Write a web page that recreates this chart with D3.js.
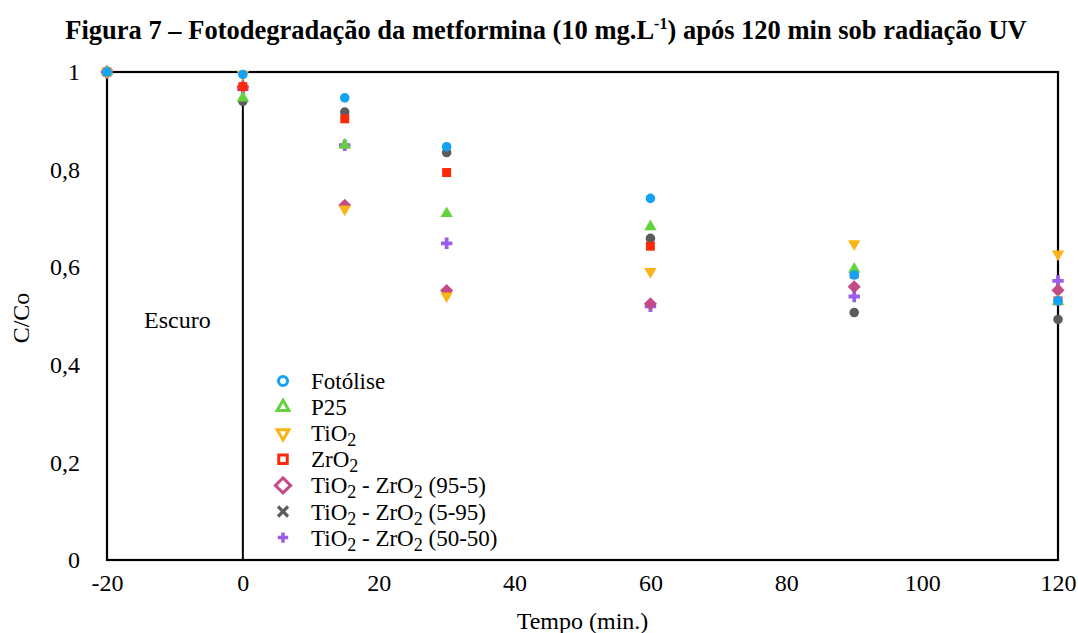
<!DOCTYPE html>
<html>
<head>
<meta charset="utf-8">
<script src="https://cdn.jsdelivr.net/npm/d3@7"></script>
<style>
  body { margin: 0; background: #fff; }
  svg text { font-family: "Liberation Serif", "Times New Roman", serif; fill: #000; }
</style>
</head>
<body>
<svg id="graphique" width="1078" height="633"></svg>
<script>
// tempo em minutos
const tempo = [-20, 0, 15, 30, 60, 90, 120];
// valores C/Co
const fotolise = [1, 0.995, 0.947, 0.847, 0.741, 0.584, 0.531];
const p25      = [1, 0.947, 0.850, 0.710, 0.683, 0.596, 0.530];
const tio2     = [1, 0.995, 0.719, 0.541, 0.591, 0.648, 0.627];
const zro2     = [1, 0.970, 0.904, 0.794, 0.643, 0.586, 0.531];
const tz95_5   = [1, 0.970, 0.727, 0.552, 0.525, 0.560, 0.553];
const tz5_95   = [1, 0.940, 0.918, 0.835, 0.659, 0.507, 0.493];
const tz50_50  = [1, 0.965, 0.850, 0.649, 0.520, 0.540, 0.572];

const xTicks = [-20, 0, 20, 40, 60, 80, 100, 120];
const yTicks = [0, 0.2, 0.4, 0.6, 0.8, 1];

const series = [
  { nome: 'Fotólise', valores: fotolise, cor: '#14a2f4', forma: 'circle' },
  { nome: 'P25', valores: p25, cor: '#62d33c', forma: 'up' },
  { nome: ['TiO', '2', ''], valores: tio2, cor: '#fbb416', forma: 'down' },
  { nome: ['ZrO', '2', ''], valores: zro2, cor: '#fd2a0a', forma: 'square' },
  { nome: ['TiO', '2', ' - ZrO', '2', ' (95-5)'], valores: tz95_5, cor: '#c24a86', forma: 'diamond' },
  { nome: ['TiO', '2', ' - ZrO', '2', ' (5-95)'], valores: tz5_95, cor: '#5c5c5c', forma: 'dot' },
  { nome: ['TiO', '2', ' - ZrO', '2', ' (50-50)'], valores: tz50_50, cor: '#9c5ce8', forma: 'plus' }
];

const svg = d3.select('#graphique');
const margin = { top: 72, right: 20, bottom: 73, left: 107 };
const width = +svg.attr('width') - margin.left - margin.right;
const height = +svg.attr('height') - margin.top - margin.bottom;

const x = d3.scaleLinear().domain([-20, 120]).range([0, width]);
const y = d3.scaleLinear().domain([0, 1]).range([height, 0]);

// titulo
const titulo = svg.append('text')
  .attr('x', 546).attr('y', 39)
  .attr('text-anchor', 'middle')
  .style('font-size', '26.5px').style('font-weight', 'bold');
titulo.append('tspan').text('Figura 7 – Fotodegradação da metformina (10 mg.L');
titulo.append('tspan').attr('dy', -10).style('font-size', '16px').text('-1');
titulo.append('tspan').attr('dy', 10).text(') após 120 min sob radiação UV');

const g = svg.append('g').attr('transform', `translate(${margin.left},${margin.top})`);

// moldura
g.append('rect')
  .attr('x', 0).attr('y', 0).attr('width', width).attr('height', height)
  .attr('fill', 'none').attr('stroke', '#000').attr('stroke-width', 2.2);

// linha do escuro em t = 0
g.append('line')
  .attr('x1', x(0)).attr('x2', x(0)).attr('y1', 0).attr('y2', height)
  .attr('stroke', '#000').attr('stroke-width', 2);

// eixos sem marcas
const fmtY = d => d3.format('.1f')(d).replace('.', ',').replace(/^1,0$/, '1').replace(/^0,0$/, '0');
const fmtX = d => String(d);
const ax = g.append('g')
  .attr('transform', `translate(0,${height})`)
  .call(d3.axisBottom(x).tickValues(xTicks).tickSize(0).tickPadding(14).tickFormat(fmtX));
const ay = g.append('g')
  .call(d3.axisLeft(y).tickValues(yTicks).tickSize(0).tickPadding(27).tickFormat(fmtY));
[ax, ay].forEach(a => {
  a.select('.domain').remove();
  a.selectAll('text')
    .style('font-family', '"Liberation Serif", serif')
    .style('font-size', '24px').attr('fill', '#000');
});

// rotulos dos eixos
svg.append('text')
  .attr('x', margin.left + x(50)).attr('y', 629)
  .attr('text-anchor', 'middle').style('font-size', '24px')
  .text('Tempo (min.)');
svg.append('text')
  .attr('transform', 'translate(29,318) rotate(-90)')
  .attr('text-anchor', 'middle').style('font-size', '24px')
  .text('C/Co');

g.append('text')
  .attr('x', 37).attr('y', 256)
  .style('font-size', '24px')
  .text('Escuro');

// formas dos marcadores
function simbolo(forma, legenda) {
  const s = legenda ? 0.9 : 1;
  switch (forma) {
    case 'circle': return { d: d3.symbol(d3.symbolCircle, 72 * s)(), rot: 0 };
    case 'dot': return { d: d3.symbol(d3.symbolCircle, 72 * s)(), rot: 0 };
    case 'up': return { d: d3.symbol(d3.symbolTriangle, 66 * s)(), rot: 0 };
    case 'down': return { d: d3.symbol(d3.symbolTriangle, 66 * s)(), rot: 180 };
    case 'square': return { d: d3.symbol(d3.symbolSquare, 80 * s)(), rot: 0 };
    case 'diamond': return { d: d3.symbol(d3.symbolSquare, (legenda ? 115 : 86))(), rot: 45 };
    case 'plus': return { d: d3.symbol(d3.symbolCross, 72 * s)(), rot: 0 };
  }
}

// pontos (desenhados da ultima serie para a primeira)
series.slice().reverse().forEach(s => {
  const sym = simbolo(s.forma, false);
  g.append('g').selectAll('path')
    .data(tempo.map((t, i) => ({ x: t, y: s.valores[i] })))
    .enter().append('path')
    .attr('d', sym.d)
    .attr('transform', d => `translate(${x(d.x)},${y(d.y)}) rotate(${sym.rot})`)
    .attr('fill', s.cor);
});

// legenda
const leg = svg.append('g').attr('transform', 'translate(283,381)');
series.forEach((s, i) => {
  const row = leg.append('g').attr('transform', `translate(0,${i * 26.1})`);
  if (s.forma === 'dot') {
    // cruz em x
    row.append('path')
      .attr('d', 'M-5,-5L5,5M-5,5L5,-5')
      .attr('stroke', s.cor).attr('stroke-width', 3.2).attr('fill', 'none');
  } else if (s.forma === 'plus') {
    row.append('path')
      .attr('d', d3.symbol(d3.symbolCross, 60)())
      .attr('fill', s.cor);
  } else {
    const sym = simbolo(s.forma, true);
    row.append('path')
      .attr('d', sym.d)
      .attr('transform', `rotate(${sym.rot})`)
      .attr('fill', 'none').attr('stroke', s.cor).attr('stroke-width', 3);
  }
  const txt = row.append('text').attr('x', 28).attr('y', 8).style('font-size', '23px');
  const partes = Array.isArray(s.nome) ? s.nome : [s.nome];
  partes.forEach((p, k) => {
    if (k % 2 === 1) {
      txt.append('tspan').attr('dy', 5).style('font-size', '18px').text(p);
    } else {
      const t = txt.append('tspan').text(p);
      if (k > 0) t.attr('dy', -5);
    }
  });
});
</script>
</body>
</html>
